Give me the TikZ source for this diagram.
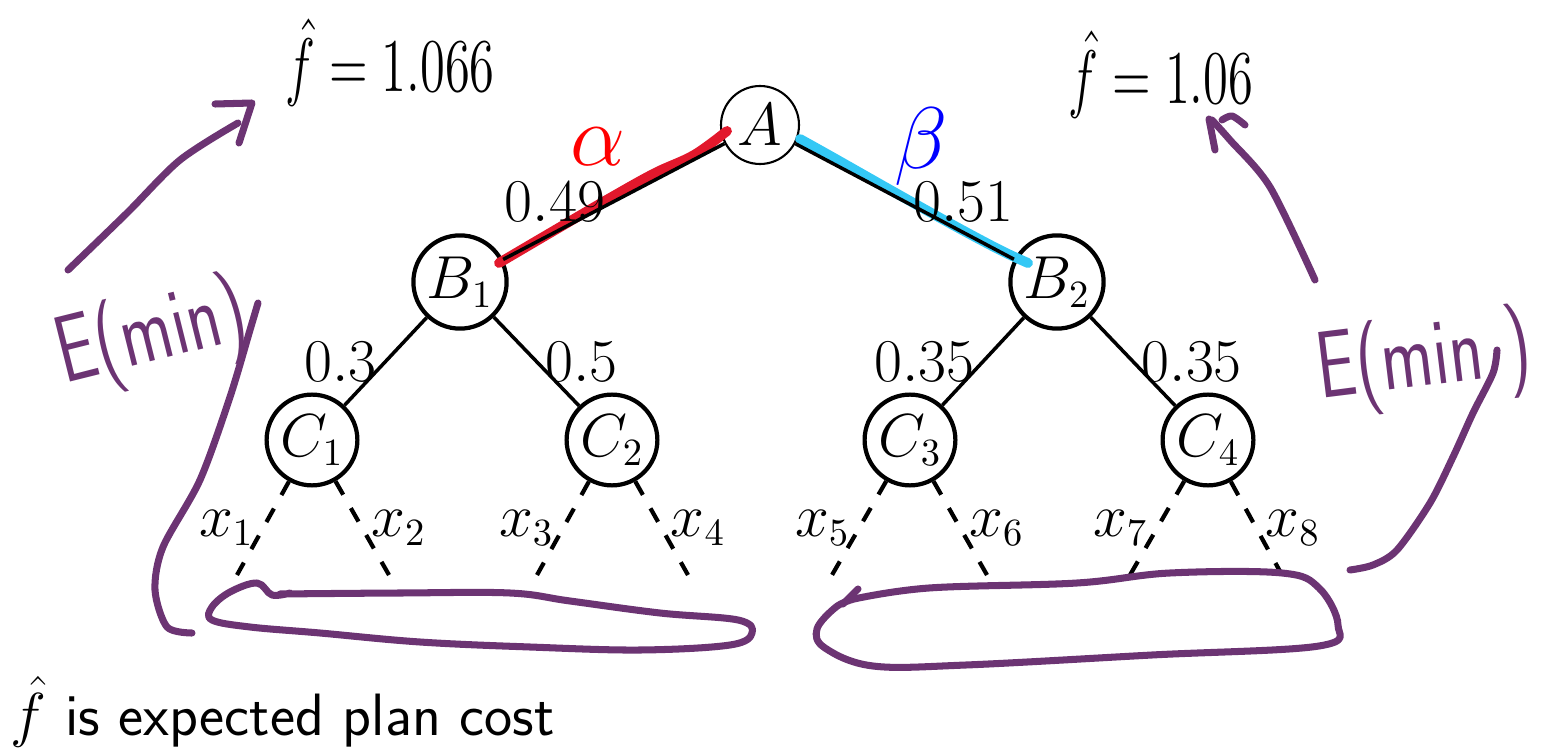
\documentclass[tikz,border=0pt]{standalone}
\usepackage{amsmath}
\usepackage{amssymb}
\usepackage{graphicx}
\usepackage{tikz}
\usetikzlibrary{positioning}

\definecolor{inkpurple}{RGB}{108,52,115}
\definecolor{hlred}{RGB}{226,24,44}
\definecolor{hlcyan}{RGB}{52,200,245}

\begin{document}
\begin{tikzpicture}[
    vertex/.style={circle, draw, line width=1.2pt, minimum size=0.84cm, inner sep=1pt, font=\fontsize{16}{19}\selectfont},
    root/.style={vertex, line width=0.6pt, minimum size=0.78cm},
    wt/.style={midway, inner sep=2pt, font=\fontsize{16}{19}\selectfont},
    leafedge/.style={line width=1.2pt, dash pattern=on 4.4pt off 4.4pt},
    ink/.style={draw=inkpurple, line width=2pt, line cap=round, line join=round},
    inktext/.style={text=inkpurple, font=\fontsize{20}{24}\selectfont\sffamily},
    hand/.style={font=\fontsize{15}{18}\selectfont}
  ]
  \useasboundingbox (0,0) rectangle (15.58,7.47);

  % tree nodes
  \node[root] (A) at (7.60,6.22) {$A$};
  \node[vertex] (B1) at (4.60,4.65) {$B_1$};
  \node[vertex] (B2) at (10.57,4.65) {$B_2$};
  \node[vertex] (C1) at (3.12,3.07) {$C_1$};
  \node[vertex] (C2) at (6.12,3.07) {$C_2$};
  \node[vertex] (C3) at (9.10,3.07) {$C_3$};
  \node[vertex] (C4) at (12.08,3.07) {$C_4$};

  \coordinate (l1) at (2.37,1.72);
  \coordinate (l2) at (3.89,1.72);
  \coordinate (l3) at (5.37,1.72);
  \coordinate (l4) at (6.88,1.72);
  \coordinate (l5) at (8.32,1.72);
  \coordinate (l6) at (9.87,1.72);
  \coordinate (l7) at (11.30,1.72);
  \coordinate (l8) at (12.82,1.72);

  % highlighted branches
  \draw[hlred, line width=2.8pt, line cap=round] plot[smooth, tension=0.6] coordinates {(4.99,4.84) (5.50,5.14) (6.10,5.49) (6.55,5.74) (6.94,5.92) (7.27,6.16)};
  \draw[hlcyan, line width=2.8pt, line cap=round] plot[smooth, tension=0.6] coordinates {(8.00,6.08) (8.34,5.89) (8.94,5.55) (9.53,5.22) (10.00,4.97) (10.28,4.84)};

  % edges
  \draw[line width=1pt] (A) -- (B1) node[wt,left] {$0.49$};
  \draw[line width=1pt] (A) -- (B2) node[wt,right] {$0.51$};
  \draw[line width=1pt] (B1) -- (C1) node[wt,left] {$0.3$};
  \draw[line width=1pt] (B1) -- (C2) node[wt,right] {$0.5$};
  \draw[line width=1pt] (B2) -- (C3) node[wt,left] {$0.35$};
  \draw[line width=1pt] (B2) -- (C4) node[wt,right] {$0.35$};

  \draw[leafedge] (C1) -- (l1) node[wt,left] {$x_1$};
  \draw[leafedge] (C1) -- (l2) node[wt,right] {$x_2$};
  \draw[leafedge] (C2) -- (l3) node[wt,left] {$x_3$};
  \draw[leafedge] (C2) -- (l4) node[wt,right] {$x_4$};
  \draw[leafedge] (C3) -- (l5) node[wt,left] {$x_5$};
  \draw[leafedge] (C3) -- (l6) node[wt,right] {$x_6$};
  \draw[leafedge] (C4) -- (l7) node[wt,left] {$x_7$};
  \draw[leafedge] (C4) -- (l8) node[wt,right] {$x_8$};

  \node[red, font=\fontsize{24}{28}\selectfont] (alpha) at (5.98,6.00) {$\alpha$};
  \node[blue, font=\fontsize{24}{28}\selectfont] (beta) at (9.21,6.00) {$\beta$};

  % handwritten notes
  \node[hand] (fl) at (3.90,6.84) {\scalebox{1}[1.5]{$\hat{f}=1.066$}};
  \node[hand] (fr) at (11.61,6.72) {\scalebox{1}[1.5]{$\hat{f}=1.06$}};
  \node[inktext, rotate=14] (El) at (1.52,4.10) {\scalebox{1}[1.35]{E(min)}};
  \node[inktext, rotate=7] (Er) at (14.24,3.85) {\scalebox{1}[1.35]{E(min )}};

  % left arrow and bracket
  \draw[ink] plot[smooth] coordinates {(0.68,4.77) (1.27,5.34) (1.80,5.87) (2.38,6.24)};
  \draw[ink] (2.15,6.43) -- (2.52,6.44) -- (2.39,6.04);
  \draw[ink] plot[smooth] coordinates {(2.58,4.44) (2.50,4.17) (2.30,3.50) (2.00,2.67) (1.63,2.00) (1.55,1.57) (1.67,1.20) (1.92,1.14)};
  \draw[ink] plot[smooth, tension=0.6] coordinates {(2.90,1.54) (2.72,1.52) (2.57,1.64) (2.30,1.55) (2.12,1.40) (2.12,1.27) (2.50,1.20) (3.20,1.14) (4.20,1.05) (5.30,1.00) (6.40,0.97) (7.30,1.02) (7.52,1.14) (7.38,1.27) (6.60,1.34) (5.70,1.46) (5.10,1.54) (4.00,1.54) (2.80,1.53)};

  % right arrow and bracket
  \draw[ink] plot[smooth] coordinates {(13.15,4.67) (12.70,5.60) (12.30,6.07) (12.12,6.27)};
  \draw[ink] (12.15,5.97) -- (12.09,6.28);
  \draw[ink] plot[smooth] coordinates {(12.22,6.27) (12.32,6.31) (12.45,6.22)};
  \draw[ink] plot[smooth] coordinates {(14.97,3.97) (14.93,3.74) (14.73,3.34) (14.53,2.90) (14.30,2.44) (13.97,1.97) (13.73,1.82) (13.50,1.77)};
  \draw[ink] plot[smooth, tension=0.6] coordinates {(8.54,1.48) (9.29,1.59) (10.77,1.64) (11.70,1.74) (12.82,1.74) (13.19,1.59) (13.38,1.22) (13.19,1.01) (11.52,0.92) (9.66,0.82) (8.73,0.81) (8.25,0.99) (8.17,1.18) (8.36,1.40) (8.54,1.48)};
  \draw[ink] (8.58,1.58) -- (8.43,1.43);

  % footnote
  \node[anchor=base west, inner sep=0pt, font=\fontsize{17}{20}\selectfont\sffamily] (note) at (0.10,0.12) {$\hat{f}$ is expected plan cost};
\end{tikzpicture}
\end{document}
